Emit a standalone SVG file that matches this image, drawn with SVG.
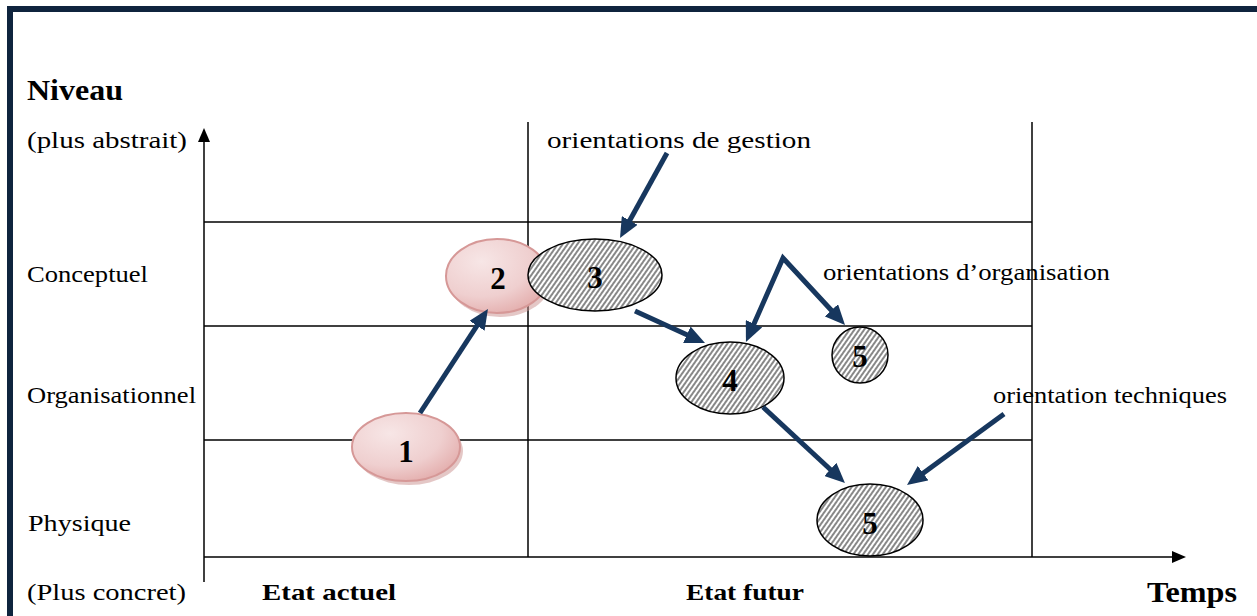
<svg xmlns="http://www.w3.org/2000/svg" width="1257" height="616" viewBox="0 0 1257 616">
<style>
.t{font-family:"Liberation Serif","DejaVu Serif",serif;fill:#000}
.lbl{font-size:24px}
.b{font-weight:bold}
.grid{stroke:#000;stroke-width:1.5;fill:none}
.con{stroke:#17375E;stroke-width:5;fill:none}
.hatch{fill:url(#hatch);stroke:#000;stroke-width:1.5}
.pink{fill:url(#pinkg);stroke:#D69897;stroke-width:2}
.shadow{fill:#C98F8E;opacity:0.5}
.num{font-size:31px;font-weight:bold;text-anchor:middle}
</style>
<defs>
<pattern id="hatch" width="4" height="4" patternUnits="userSpaceOnUse" patternTransform="rotate(35)">
<rect width="4" height="4" fill="#fff"/>
<line x1="1" y1="0" x2="1" y2="4" stroke="#555" stroke-width="1.4"/>
</pattern>
<radialGradient id="pinkg" cx="0.35" cy="0.3" r="0.8">
<stop offset="0" stop-color="#F7E6E6"/>
<stop offset="0.6" stop-color="#EFCFCF"/>
<stop offset="1" stop-color="#E2A9A8"/>
</radialGradient>
<marker id="ah" markerUnits="userSpaceOnUse" viewBox="0 0 20 18" refX="6" refY="9" markerWidth="20" markerHeight="18" orient="auto-start-reverse">
<path d="M0,0 L20,9 L0,18 z" fill="#17375E"/>
</marker>
<marker id="axh" markerUnits="userSpaceOnUse" viewBox="0 0 14 12" refX="2" refY="6" markerWidth="14" markerHeight="12" orient="auto">
<path d="M0,0 L14,6 L0,12 z" fill="#000"/>
</marker>
</defs>
<rect width="1257" height="616" fill="#fff"/>
<g id="frame">
<rect x="7" y="6" width="1250" height="6" fill="#0F243E"/>
<rect x="7" y="6" width="6" height="610" fill="#0F243E"/>
</g>
<g id="grid">
<line class="grid" x1="204" y1="222" x2="1032" y2="222"/>
<line class="grid" x1="204" y1="326" x2="1032" y2="326"/>
<line class="grid" x1="204" y1="440" x2="1032" y2="440"/>
<line class="grid" x1="528" y1="122" x2="528" y2="557"/>
<line class="grid" x1="1032" y1="122" x2="1032" y2="557"/>
</g>
<g id="texts">
<text class="t b" x="27" y="100" font-size="29" textLength="96" lengthAdjust="spacingAndGlyphs">Niveau</text>
<text class="t lbl" x="27" y="148" textLength="160" lengthAdjust="spacingAndGlyphs">(plus abstrait)</text>
<text class="t lbl" x="27" y="282" textLength="121" lengthAdjust="spacingAndGlyphs">Conceptuel</text>
<text class="t lbl" x="27" y="403" textLength="169" lengthAdjust="spacingAndGlyphs">Organisationnel</text>
<text class="t lbl" x="28" y="531" textLength="103" lengthAdjust="spacingAndGlyphs">Physique</text>
<text class="t lbl" x="27" y="600" textLength="159" lengthAdjust="spacingAndGlyphs">(Plus concret)</text>
<text class="t b" x="262" y="600" font-size="23" textLength="134" lengthAdjust="spacingAndGlyphs">Etat actuel</text>
<text class="t b" x="686" y="600" font-size="23" textLength="118" lengthAdjust="spacingAndGlyphs">Etat futur</text>
<text class="t b" x="1147" y="602" font-size="30" textLength="90" lengthAdjust="spacingAndGlyphs">Temps</text>
<text class="t lbl" x="547" y="148" textLength="264" lengthAdjust="spacingAndGlyphs">orientations de gestion</text>
<text class="t lbl" x="823" y="280" textLength="287" lengthAdjust="spacingAndGlyphs">orientations d’organisation</text>
<text class="t lbl" x="993" y="403" textLength="234" lengthAdjust="spacingAndGlyphs">orientation techniques</text>
</g>
<g id="n1">
<ellipse class="shadow" cx="409" cy="451" rx="54" ry="34"/>
<ellipse class="pink" cx="406" cy="447" rx="54" ry="34"/>
<text class="t num" x="406" y="462">1</text>
</g>
<g id="n2">
<ellipse class="shadow" cx="500" cy="280" rx="51" ry="37"/>
<ellipse class="pink" cx="497" cy="276" rx="51" ry="37"/>
<text class="t num" x="498" y="289">2</text>
</g>
<g id="n3">
<ellipse class="hatch" cx="595" cy="275" rx="67" ry="36"/>
<text class="t num" x="595" y="288">3</text>
</g>
<g id="n4">
<ellipse class="hatch" cx="730" cy="378" rx="54" ry="36"/>
<text class="t num" x="730" y="391">4</text>
</g>
<g id="n5a">
<ellipse class="hatch" cx="860" cy="355" rx="28" ry="28"/>
<text class="t num" x="860" y="367" font-size="24">5</text>
</g>
<g id="n5b">
<ellipse class="hatch" cx="870" cy="520" rx="53" ry="36"/>
<text class="t num" x="870" y="534">5</text>
</g>
<g id="axes">
<line class="grid" x1="204" y1="582" x2="204" y2="140" stroke-width="2" marker-end="url(#axh)"/>
<line class="grid" x1="204" y1="557" x2="1174" y2="557" stroke-width="2" marker-end="url(#axh)"/>
</g>
<g id="connectors">
<line class="con" x1="420" y1="413" x2="480.3" y2="320.7" marker-end="url(#ah)"/>
<line class="con" x1="667" y1="153" x2="626.8" y2="225.7" marker-end="url(#ah)"/>
<line class="con" x1="635" y1="311" x2="692.3" y2="337.2" marker-end="url(#ah)"/>
<path class="con" d="M751.6,329.2 L783,258 L835.5,314.7" stroke-linejoin="miter" marker-start="url(#ah)" marker-end="url(#ah)"/>
<line class="con" x1="763" y1="407" x2="834.7" y2="473.5" marker-end="url(#ah)"/>
<line class="con" x1="1004" y1="414" x2="918.3" y2="476.7" marker-end="url(#ah)"/>
</g>
</svg>
